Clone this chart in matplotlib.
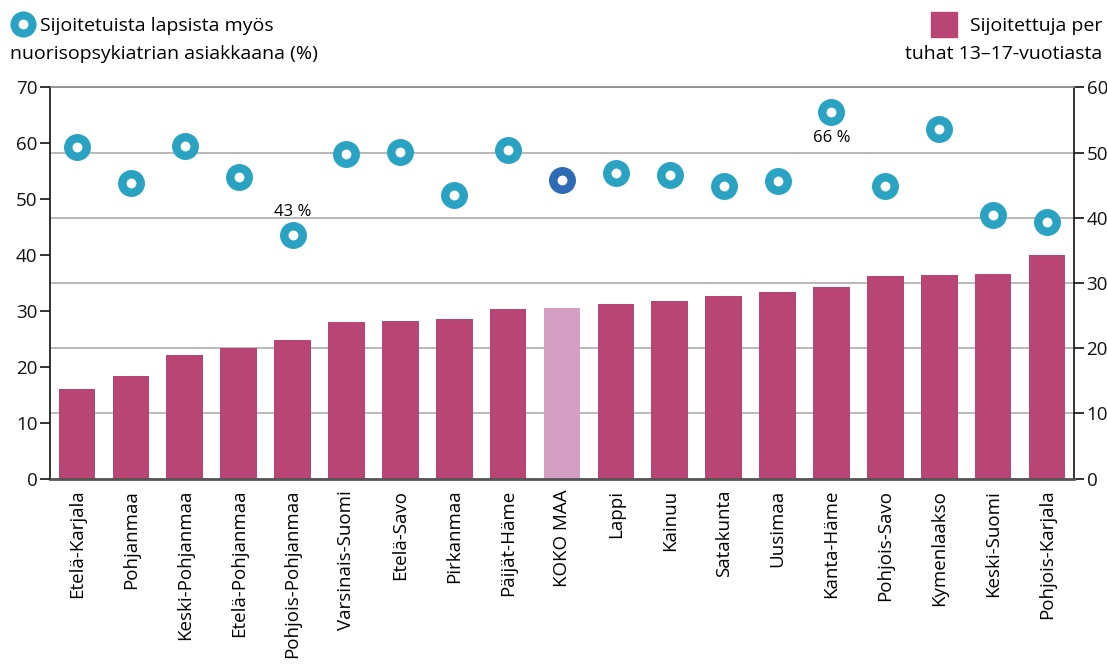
import matplotlib
matplotlib.use("Agg")
import matplotlib.pyplot as plt
from matplotlib.patches import Rectangle
from matplotlib.lines import Line2D

plt.rcParams['font.family'] = ['Open Sans', 'DejaVu Sans']

regions = ["Etelä-Karjala", "Pohjanmaa", "Keski-Pohjanmaa", "Etelä-Pohjanmaa",
           "Pohjois-Pohjanmaa", "Varsinais-Suomi", "Etelä-Savo", "Pirkanmaa",
           "Päijät-Häme", "KOKO MAA", "Lappi", "Kainuu", "Satakunta", "Uusimaa",
           "Kanta-Häme", "Pohjois-Savo", "Kymenlaakso", "Keski-Suomi", "Pohjois-Karjala"]
placed_per_thousand = [13.75, 15.7, 19.0, 20.0, 21.3, 24.0, 24.2, 24.5, 26.0, 26.2,
                       26.8, 27.2, 28.0, 28.6, 29.4, 31.1, 31.2, 31.4, 34.3]
psych_share = [59.3, 52.8, 59.5, 54.0, 43.5, 58.0, 58.4, 50.7, 58.8, 53.4,
               54.6, 54.4, 52.4, 53.3, 65.6, 52.4, 62.6, 47.1, 45.9]
labels = {"Pohjois-Pohjanmaa": "43 %", "Kanta-Häme": "66 %"}
left_ticks = [0, 10, 20, 30, 40, 50, 60, 70]
right_ticks = [0, 10, 20, 30, 40, 50, 60]

BAR = "#b94574"
BAR_NAT = "#d49fc3"
RING = "#2aa3c2"
RING_NAT = "#2f6ab5"
FS = 13.5

fig = plt.figure(figsize=(11.07, 6.66), dpi=100)
ax = fig.add_axes([50/1107, 1-478.7/666, (1074-50)/1107, (478.7-87.3)/666])
x = list(range(len(regions)))
colors = [BAR_NAT if r == "KOKO MAA" else BAR for r in regions]
ax.bar(x, placed_per_thousand, width=0.68, color=colors, zorder=2)
ax.set_xlim(-0.5, len(regions) - 0.5)
ax.set_ylim(0, 60)
ax.set_yticks(right_ticks)
ax.set_axisbelow(True)
ax.grid(axis='y', color='#a6a6a6', linewidth=1.1, zorder=0)
ax.set_xticks(x)
ax.set_xticklabels(regions, rotation=90, fontsize=FS)
ax.tick_params(axis='x', length=0, pad=8)
for s in ['left', 'right']:
    ax.spines[s].set_color('#222222')
    ax.spines[s].set_linewidth(1.3)
ax.spines['top'].set_color('#888888')
ax.spines['top'].set_linewidth(1.2)
ax.spines['bottom'].set_color('#555555')
ax.spines['bottom'].set_linewidth(2)

ax2 = ax.twinx()
ax.yaxis.tick_right()
ax.tick_params(axis='y', which='both', left=False, labelleft=False, right=True, labelright=True,
               direction='out', length=7, width=1.2, labelsize=FS, pad=2, colors='#111111')
ax2.set_ylim(0, 70)
ax2.set_yticks(left_ticks)
ax2.yaxis.tick_left()
ax2.tick_params(axis='y', which='both', right=False, labelright=False, left=True, labelleft=True,
                direction='out', length=7, width=1.2, labelsize=FS, pad=2, colors='#111111')
for s in ax2.spines.values():
    s.set_visible(False)
for i, (r, v) in enumerate(zip(regions, psych_share)):
    c = RING_NAT if r == "KOKO MAA" else RING
    ax2.plot([i], [v], marker='o', ms=13.3, mew=6.1, mec=c, mfc='white', ls='none', zorder=5)
    if r in labels:
        if v < 50:
            ax2.annotate(labels[r], (i, v), xytext=(0, 11), textcoords='offset points',
                         ha='center', va='bottom', fontsize=12)
        else:
            ax2.annotate(labels[r], (i, v), xytext=(0, -13), textcoords='offset points',
                         ha='center', va='top', fontsize=12)

# legends
fig.add_artist(Line2D([23/1107], [1-24/666], marker='o', ms=13.0, mew=5.8, mec=RING,
                      mfc='white', ls='none', transform=fig.transFigure))
fig.text(40/1107, 1-31/666, "Sijoitetuista lapsista myös", fontsize=14, va='baseline', ha='left')
fig.text(10/1107, 1-59/666, "nuorisopsykiatrian asiakkaana (%)", fontsize=14, va='baseline', ha='left')
fig.add_artist(Rectangle((931/1107, 1-37/666), 26/1107, 25/666, color=BAR,
                         transform=fig.transFigure))
fig.text(1102/1107, 1-31/666, "Sijoitettuja per", fontsize=14, va='baseline', ha='right')
fig.text(1102/1107, 1-59/666, "tuhat 13–17-vuotiasta", fontsize=14, va='baseline', ha='right')

fig.savefig("out.png", dpi=100)
